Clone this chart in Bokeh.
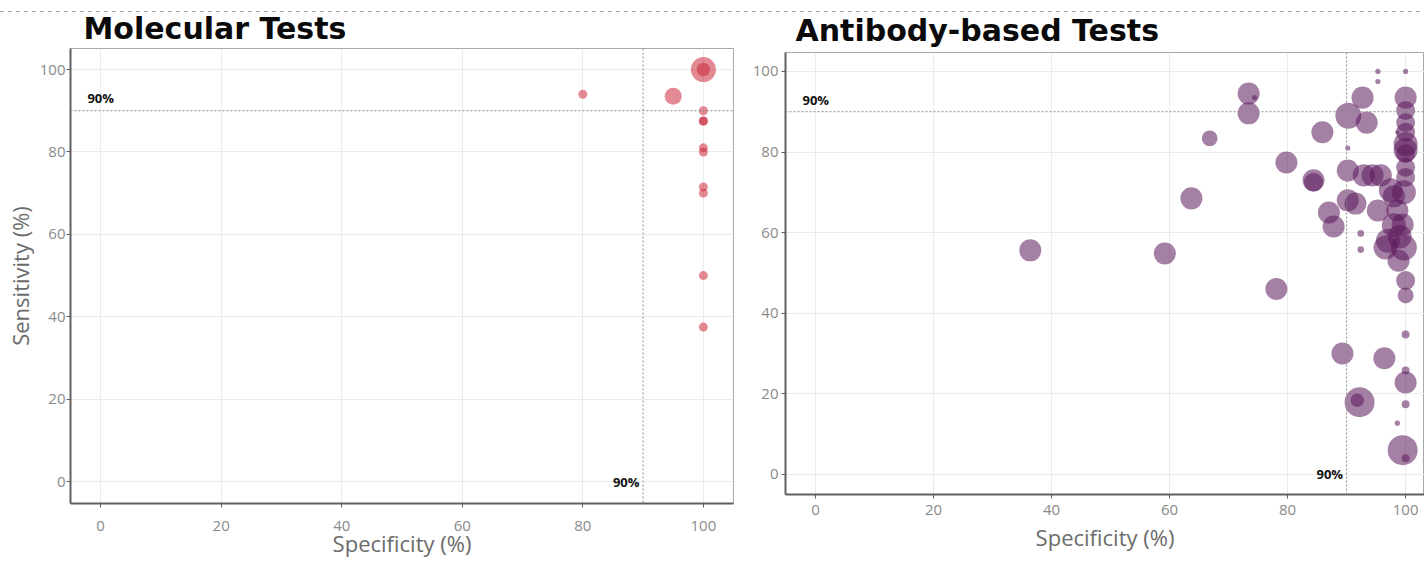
import numpy as np
from bokeh.plotting import figure
from bokeh.models import Span, Label, ColumnDataSource, FixedTicker
from bokeh.layouts import row
from bokeh.embed import file_html
from bokeh.resources import INLINE

# ---------------- data ----------------
# Molecular tests: specificity (%), sensitivity (%), sample size
mol_spec = [100, 100, 80, 95, 100, 100, 100, 100, 100, 100, 100, 100, 100]
mol_sens = [100, 100, 94, 93.5, 90, 87.5, 87.5, 81, 80, 71.5, 70, 50, 37.5]
mol_n = [70, 20, 9, 32, 9, 9, 9, 9, 9, 9, 9, 9, 9]

# Antibody-based tests
ab_spec = [36.4, 59.2, 63.7, 66.8, 73.4, 74.4, 73.4, 78.1, 79.8, 84.4, 84.4,
           85.9, 87.0, 87.8, 89.3, 90.3, 92.7, 93.4, 90.2, 90.2, 92.9, 94.4,
           95.8, 90.2, 91.5, 95.3, 97.5, 99.7, 98.6, 98.0, 96.6, 99.7, 98.8,
           92.4, 92.4, 95.3, 95.3, 100, 100, 100, 100, 100, 100, 100, 100,
           100, 100, 98.6, 100, 100, 100, 100, 96.4, 100, 92.2, 91.8, 100,
           98.6, 99.5, 100, 97.0, 99.0, 99.5, 98.0]
ab_sens = [55.6, 54.8, 68.5, 83.4, 94.5, 93.5, 89.6, 46.0, 77.4, 73.0, 72.5,
           84.9, 65.0, 61.5, 30.0, 89.0, 93.5, 87.3, 81.0, 75.4, 74.2, 74.2,
           74.2, 68.0, 67.2, 65.5, 70.5, 70.0, 65.5, 61.8, 56.3, 56.3, 53.0,
           59.8, 55.8, 100, 97.5, 100, 93.5, 90.3, 87.3, 84.9, 82.0, 80.5,
           79.6, 76.2, 73.7, 84.9, 48.1, 44.4, 34.7, 25.8, 28.8, 22.8, 17.9,
           18.4, 17.4, 12.7, 6.0, 4.0, 58.0, 59.0, 62.0, 69.0]
ab_n = [54, 54, 54, 28, 54, 3, 54, 54, 54, 54, 40,
        54, 54, 54, 54, 75, 54, 54, 3, 54, 54, 54,
        54, 54, 54, 54, 64, 64, 54, 64, 64, 75, 54,
        5, 5, 3, 3, 3, 54, 40, 40, 40, 64, 64,
        40, 40, 40, 2, 40, 28, 7, 7, 54, 54, 100,
        20, 7, 3, 100, 7, 64, 64, 54, 54]

ticks = [0, 20, 40, 60, 80, 100]
threshold = 90

GRID = "#ebebeb"
AXIS = "#606060"
TICKLAB = "#8a8a8a"
LABEL = "#6b6b6b"


def style(p, x_std, y_std, x_lab_std, title_standoff):
    p.frame_align = False
    p.border_fill_color = None
    p.background_fill_color = "white"
    p.xaxis.ticker = FixedTicker(ticks=ticks)
    p.yaxis.ticker = FixedTicker(ticks=ticks)
    p.xgrid.ticker = FixedTicker(ticks=ticks)
    p.ygrid.ticker = FixedTicker(ticks=ticks)
    p.grid.grid_line_color = GRID
    p.grid.grid_line_width = 1
    p.outline_line_color = "#a8a8a8"
    p.outline_line_width = 1
    for ax in (p.xaxis, p.yaxis):
        ax.axis_line_color = AXIS
        ax.axis_line_width = 2
        ax.major_tick_line_color = AXIS
        ax.major_tick_out = 4
        ax.major_tick_in = 0
        ax.minor_tick_line_color = None
        ax.major_label_text_font = "Open Sans"
        ax.major_label_text_font_size = "15px"
        ax.major_label_text_color = TICKLAB
        ax.axis_label_text_font = "Open Sans"
        ax.axis_label_text_font_size = "22px"
        ax.axis_label_text_font_style = "normal"
        ax.axis_label_text_color = LABEL
    p.xaxis.major_label_standoff = x_std
    p.yaxis.major_label_standoff = y_std
    p.xaxis.axis_label = "Specificity (%)"
    p.xaxis.axis_label_standoff = x_lab_std
    p.title.text_font = "DejaVu Sans"
    p.title.text_font_style = "bold"
    p.title.text_font_size = "30px"
    p.title.text_color = "#0a0a0a"
    p.title.align = "left"
    p.title.standoff = title_standoff
    p.add_layout(Span(location=threshold, dimension="width", line_color="#8a8a8a",
                      line_dash="2 2", line_width=1))
    p.add_layout(Span(location=threshold, dimension="height", line_color="#8a8a8a",
                      line_dash="2 2", line_width=1))
    p.add_layout(Label(x=-2.2, y=threshold + 0.8, text="90%", text_align="left",
                       text_baseline="bottom", text_font_size="13px",
                       text_font="Open Sans", text_font_style="bold",
                       text_color="#111111"))
    p.add_layout(Label(x=threshold - 0.6, y=0, text="90%", text_align="right",
                       text_baseline="middle", text_font_size="13px",
                       text_font="Open Sans", text_font_style="bold",
                       text_color="#111111"))


def sizes(n):
    return [3.0 * np.sqrt(v) for v in n]


# ---------------- left: molecular ----------------
p1 = figure(width=740, height=561, x_range=(-5, 105), y_range=(-5.3, 105.1),
            output_backend="svg", toolbar_location=None, title="Molecular Tests",
            min_border_left=70, min_border_right=7, min_border_top=48,
            min_border_bottom=58)
style(p1, 13, 1, -6, 6)
p1.yaxis.axis_label = "Sensitivity (%)"
p1.yaxis.axis_label_standoff = 2
p1.title.offset = 13
src1 = ColumnDataSource(dict(x=mol_spec, y=mol_sens, s=sizes(mol_n)))
p1.scatter("x", "y", size="s", source=src1, fill_color="#cc2a3e",
           fill_alpha=0.55, line_color=None)

# ---------------- right: antibody ----------------
p2 = figure(width=684, height=561, x_range=(-5.08, 103.2), y_range=(-5, 104.7),
            output_backend="svg", toolbar_location=None, title="Antibody-based Tests",
            min_border_left=45, min_border_right=0, min_border_top=52,
            min_border_bottom=67)
style(p2, 6, 3, 4, 10)
p2.title.offset = 10
src2 = ColumnDataSource(dict(x=ab_spec, y=ab_sens, s=sizes(ab_n)))
p2.scatter("x", "y", size="s", source=src2, fill_color="#5b175b",
           fill_alpha=0.55, line_color=None)

# dashed separator line across the top of the page (page decoration)
sep_style = {
    "background-color": "white",
    "background-image": "linear-gradient(to right, #aaaaaa 50%, rgba(255,255,255,0) 50%)",
    "background-size": "8px 1px",
    "background-repeat": "repeat-x",
    "background-position": "0px 11px",
}
layout = row(p1, p2, styles=sep_style)
open("out.html", "w").write(file_html(layout, INLINE))
